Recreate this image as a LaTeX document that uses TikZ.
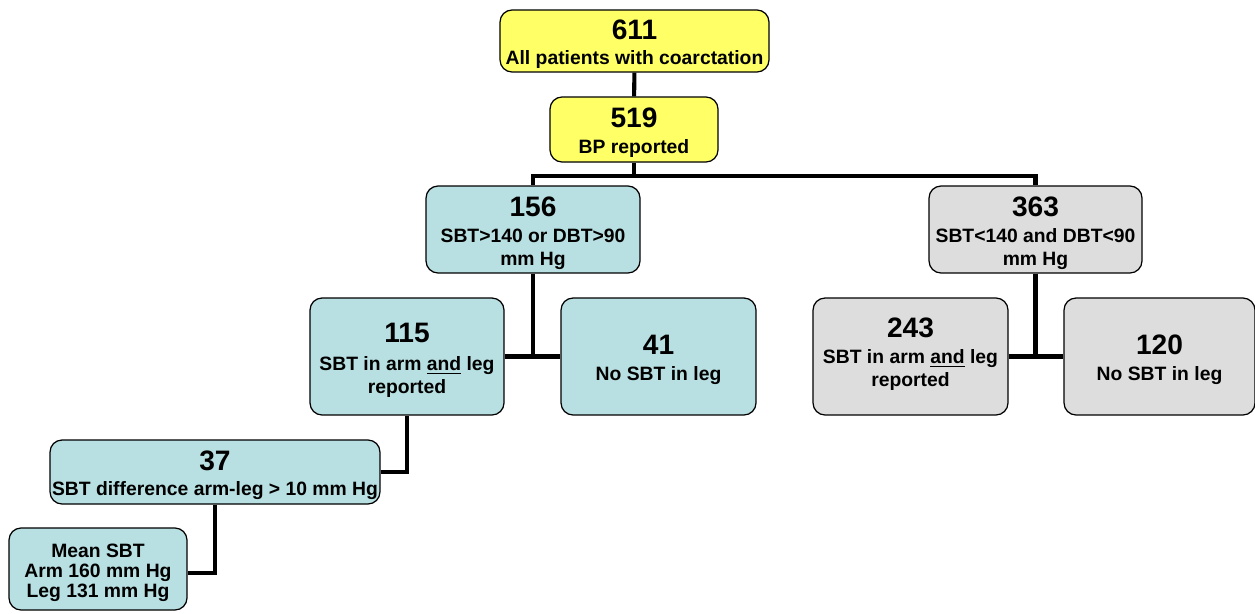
\documentclass[tikz,border=0pt]{standalone}
\usepackage{fontspec}
\setmainfont{Liberation Sans}
\definecolor{boxyellow}{HTML}{FFFF66}
\definecolor{boxblue}{HTML}{B8DFE1}
\definecolor{boxgrey}{HTML}{DDDDDD}
\newcommand{\bignum}[1]{{\fontsize{16}{18}\selectfont\rule{0pt}{15pt}#1}}
\begin{document}
\begin{tikzpicture}[x=0.02cm,y=-0.02cm,
        box/.style={draw,rounded corners=0.24cm,line width=0.7pt,align=center,inner sep=1pt,
            font=\bfseries\fontsize{11}{13}\selectfont},
        yel/.style={box,fill=boxyellow},
        blu/.style={box,fill=boxblue},
        gry/.style={box,fill=boxgrey},
        link/.style={line width=2.3pt,line join=miter}]
        \useasboundingbox (0,0) rectangle (1255,613);
        %% Top
        \node[yel,minimum width=5.38cm,minimum height=1.24cm] (all) at (634.5,41) {\bignum{611}\\[1pt] All patients with coarctation};
        \node[yel,minimum width=3.36cm,minimum height=1.30cm] (bp) at (634,129.5) {\bignum{519}\\[2pt] BP reported};
        %% Hypertensive branch
        \node[blu,minimum width=4.28cm,minimum height=1.74cm] (high) at (533,229.5) {\bignum{156}\\[2pt] SBT>140 or DBT>90\\ mm Hg};
        \node[blu,minimum width=3.88cm,minimum height=2.34cm] (highboth) at (407,356.5) {\bignum{115}\\[3pt] SBT in arm \underline{and} leg\\ reported};
        \node[blu,minimum width=3.90cm,minimum height=2.34cm] (highnoleg) at (658.5,356.5) {\bignum{41}\\[2pt] No SBT in leg};
        \node[blu,minimum width=6.60cm,minimum height=1.28cm] (diff) at (215,472) {\bignum{37}\\[1pt] SBT difference arm-leg > 10 mm Hg};
        \node[blu,minimum width=3.56cm,minimum height=1.64cm,font=\bfseries\fontsize{11}{11.5}\selectfont] (mean) at (98,569) {\rule{0pt}{12pt}Mean SBT\\ Arm 160 mm Hg\\ Leg 131 mm Hg};
        %% Normotensive branch
        \node[gry,minimum width=4.26cm,minimum height=1.74cm] (low) at (1035.5,229.5) {\bignum{363}\\[2pt] SBT<140 and DBT<90\\ mm Hg};
        \node[gry,minimum width=3.90cm,minimum height=2.34cm,text depth=9pt] (lowboth) at (910.5,356.5) {\bignum{243}\\[2pt] SBT in arm \underline{and} leg\\ reported};
        \node[gry,minimum width=3.82cm,minimum height=2.34cm] (lownoleg) at (1159.5,356.5) {\bignum{120}\\[2pt] No SBT in leg};
        %% Connectors
        \draw[link] (all) -- (bp);
        \draw[link] (bp.south) -- ++(0,13) coordinate (split);
        \draw[link] (split) -| (high.north);
        \draw[link] (split) -| (low.north);
        \draw[link] (high.south) -- (high.south |- highboth.east);
        \draw[link] (highboth.east) -- (highnoleg.west);
        \draw[link] (low.south) -- (low.south |- lowboth.east);
        \draw[link] (lowboth.east) -- (lownoleg.west);
        \draw[link] (highboth.south) |- (diff.east);
        \draw[link] (diff.south) |- ([yshift=-2pt]mean.east);
    \end{tikzpicture}
\end{document}
